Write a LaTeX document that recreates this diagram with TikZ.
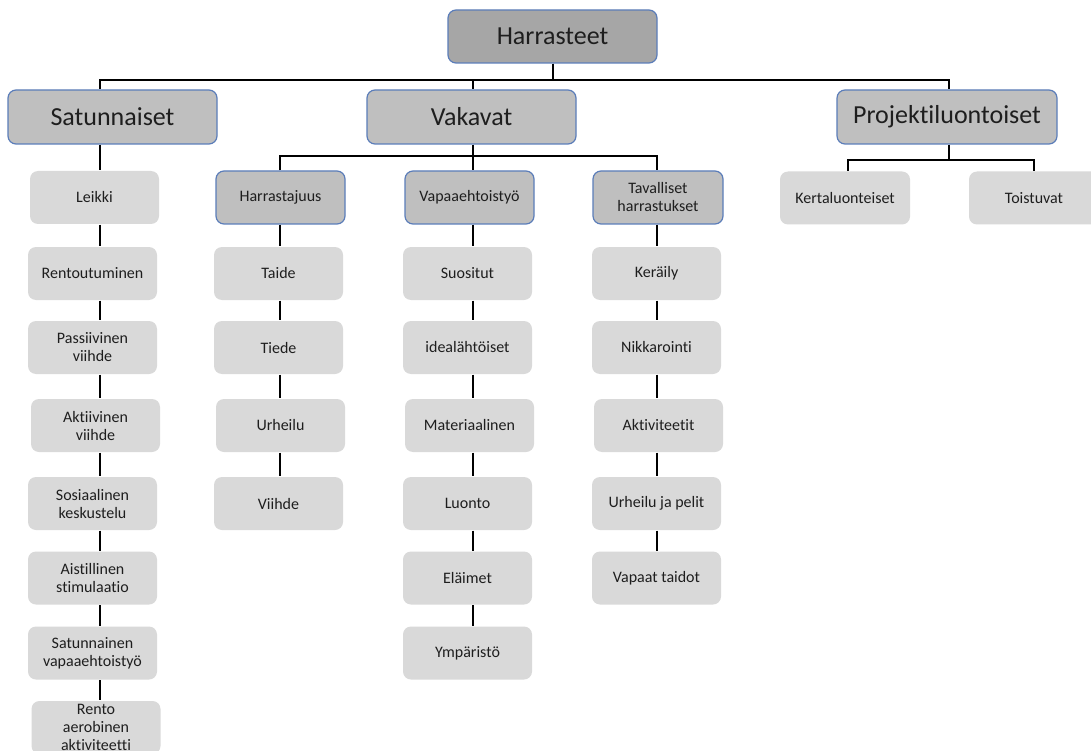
\documentclass[tikz,border=0pt]{standalone}
\usepackage{fontspec}
\setmainfont{Carlito}[Ligatures=NoCommon]
\definecolor{boxblue}{HTML}{5B7DB9}
\definecolor{darkfill}{HTML}{A6A6A6}
\definecolor{midfill}{HTML}{BFBFBF}
\definecolor{lightfill}{HTML}{D9D9D9}
\definecolor{inktext}{HTML}{1E1E1E}
\tikzset{
	headbox/.style={draw=boxblue,line width=1.2pt,fill=darkfill,rounded corners=8pt,
		minimum width=209pt,minimum height=53pt,inner sep=0pt,text=inktext,
		font=\fontsize{26}{31}\selectfont},
	groupbox/.style={headbox,fill=midfill,minimum height=54pt},
	subbox/.style={draw=boxblue,line width=1.2pt,fill=midfill,rounded corners=8pt,
		minimum width=129pt,minimum height=53pt,inner sep=0pt,align=center,text=inktext,
		font=\fontsize{16}{18}\selectfont},
	leafbox/.style={subbox,draw=none,fill=lightfill},
	link/.style={line width=2pt,black}
}

\begin{document}
\begin{tikzpicture}[x=1pt,y=-1pt]
\useasboundingbox[fill=white] (0,0) rectangle (1091,751);
% spines and buses
\coordinate (sline) at (100,0);
\coordinate (hline) at (280,0);
\coordinate (vline) at (473,0);
\coordinate (tline) at (657,0);
\coordinate (pline) at (949,0);
\coordinate (bus0) at (0,80);
\coordinate (vbus) at (0,156);
\coordinate (pbus) at (0,160);
% top levels
\node[headbox] (root) at (552.5,36.5) {Harrasteet};
\node[groupbox] (sat) at (112.5,117) {Satunnaiset};
\node[groupbox] (vak) at (471.5,117) {Vakavat};
\node[groupbox,minimum width=220pt] (proj) at (947,117) {Projektiluontoiset};
\node[subbox] (harr) at (280.5,197.5) {Harrastajuus};
\node[subbox] (vapa) at (469.5,197.5) {Vapaaehtoistyö};
\node[subbox,minimum width=130pt] (taval) at (658,197.5) {Tavalliset\\harrastukset};
\node[leafbox,minimum width=130pt] (kert) at (845,198) {Kertaluonteiset};
\node[leafbox,minimum width=130pt] (toist) at (1034,198) {Toistuvat};
% Satunnaiset
\node[leafbox] (leikki) at (94.5,197.5) {Leikki};
\node[leafbox] (rent) at (92.5,273.5) {Rentoutuminen};
\node[leafbox] (pass) at (92.5,347.5) {Passiivinen\\viihde};
\node[leafbox] (akti) at (95.5,425.5) {Aktiivinen\\viihde};
\node[leafbox] (sosi) at (92.5,503.5) {Sosiaalinen\\keskustelu};
\node[leafbox] (aist) at (92.5,578) {Aistillinen\\stimulaatio};
\node[leafbox] (satv) at (92.5,653) {Satunnainen\\vapaaehtoistyö};
\node[leafbox] (rento) at (96,727.5) {Rento\\aerobinen\\aktiviteetti};
% Harrastajuus
\node[leafbox] (taide) at (278.5,273.5) {Taide};
\node[leafbox] (tiede) at (278.5,347.5) {Tiede};
\node[leafbox] (urh) at (280.5,425.5) {Urheilu};
\node[leafbox] (viihde) at (278.5,503.5) {Viihde};
% Vapaaehtoistyo
\node[leafbox] (suos) at (467.5,273.5) {Suositut};
\node[leafbox] (idea) at (467.5,347.5) {idealähtöiset};
\node[leafbox] (mate) at (469.5,425.5) {Materiaalinen};
\node[leafbox] (luon) at (467.5,503.5) {Luonto};
\node[leafbox] (elai) at (467.5,578) {Eläimet};
\node[leafbox] (ympa) at (467.5,653) {Ympäristö};
% Tavalliset harrastukset
\node[leafbox] (kera) at (656.5,273.5) {Keräily};
\node[leafbox] (nikk) at (656.5,347.5) {Nikkarointi};
\node[leafbox] (aktv) at (658.5,425.5) {Aktiviteetit};
\node[leafbox] (urhp) at (656.5,503.5) {Urheilu ja pelit};
\node[leafbox] (vapt) at (656.5,578) {Vapaat taidot};
% connectors
\draw[link] (root.south) |- (sline |- bus0) -- (sat.north -| sline);
\draw[link] (root.south) |- (pline |- bus0) -- (proj.north -| pline);
\draw[link] (vline |- bus0) -- (vak.north -| vline);
\draw[link] (vak.south -| vline) -- (vapa.north -| vline);
\draw[link] (harr.north -| hline) -- (hline |- vbus) -- (tline |- vbus) -- (taval.north -| tline);
\draw[link] (proj.south -| pline) -- (pline |- pbus);
\draw[link] (kert.north -| 848,0) -- (848,160) -- (toist.north |- pbus) -- (toist.north);
\foreach \a/\b/\s in {sat/leikki/sline,leikki/rent/sline,rent/pass/sline,pass/akti/sline,
	akti/sosi/sline,sosi/aist/sline,aist/satv/sline,satv/rento/sline,
	harr/taide/hline,taide/tiede/hline,tiede/urh/hline,urh/viihde/hline,
	vapa/suos/vline,suos/idea/vline,idea/mate/vline,mate/luon/vline,luon/elai/vline,elai/ympa/vline,
	taval/kera/tline,kera/nikk/tline,nikk/aktv/tline,aktv/urhp/tline,urhp/vapt/tline}
	\draw[link] (\a.south -| \s) -- (\b.north -| \s);
\end{tikzpicture}
\end{document}
